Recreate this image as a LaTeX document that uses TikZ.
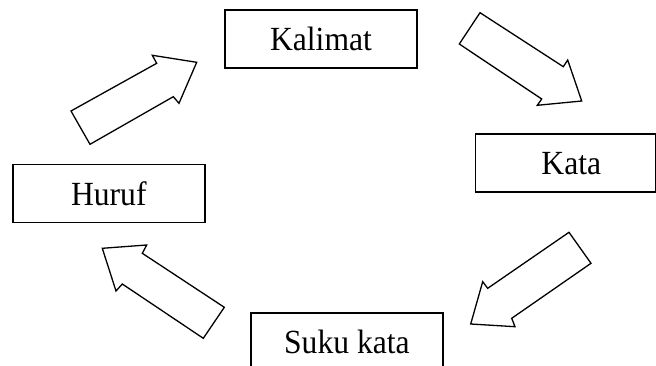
\documentclass[tikz,border=0pt]{standalone}
\usepackage{fontspec}
\setmainfont{Liberation Serif}
% slightly tall lettering used inside the boxes
\newcommand{\tallword}[1]{\scalebox{1}[1.07]{#1}}
\begin{document}
\begin{tikzpicture}[x=1pt,y=-1pt,
  levelbox/.style={draw=black, line width=1.4pt, inner sep=0pt,
    minimum height=58pt, font=\fontsize{31.6}{36}\selectfont},
  blockarrow/.style={draw=black, line width=1.3pt, line join=miter, fill=white}]
  \useasboundingbox (0,0) rectangle (656,366);

  % the four levels
  \node[levelbox, minimum width=192pt] (kalimat) at (321,39.2) {\tallword{Kalimat}};
  \node[levelbox, minimum width=180pt] (kata) at (565.3,163.2) {\hspace*{12pt}\tallword{Kata}};
  \node[levelbox, minimum width=192pt] (huruf) at (108.8,193.8) {\tallword{Huruf}};
  \node[levelbox, minimum width=192pt] (suku) at (346.9,341.9) {\tallword{Suku kata}};

  % block arrows running round the cycle
  % Huruf -> Kalimat
  \draw[blockarrow] (71,111) -- (156.7,63.3) -- (152.3,55.3) -- (196.7,62.3)
    -- (179,103.3) -- (173.3,96.7) -- (90,144.3) -- cycle;
  % Kalimat -> Kata
  \draw[blockarrow] (480,12.7) -- (563.3,66.7) -- (567.7,60) -- (581.7,101)
    -- (537.3,105.3) -- (541.7,99) -- (459.3,44) -- cycle;
  % Kata -> Suku kata
  \draw[blockarrow] (569,232.3) -- (487.7,288.3) -- (482.7,281.7) -- (470.7,324)
    -- (515,326.7) -- (511.7,318.3) -- (591,263.3) -- cycle;
  % Suku kata -> Huruf
  \draw[blockarrow] (102.3,248.3) -- (146.7,245) -- (142.3,253.3) -- (224.3,307.3)
    -- (203.3,338.3) -- (122.3,284) -- (116,291) -- cycle;
\end{tikzpicture}
\end{document}
